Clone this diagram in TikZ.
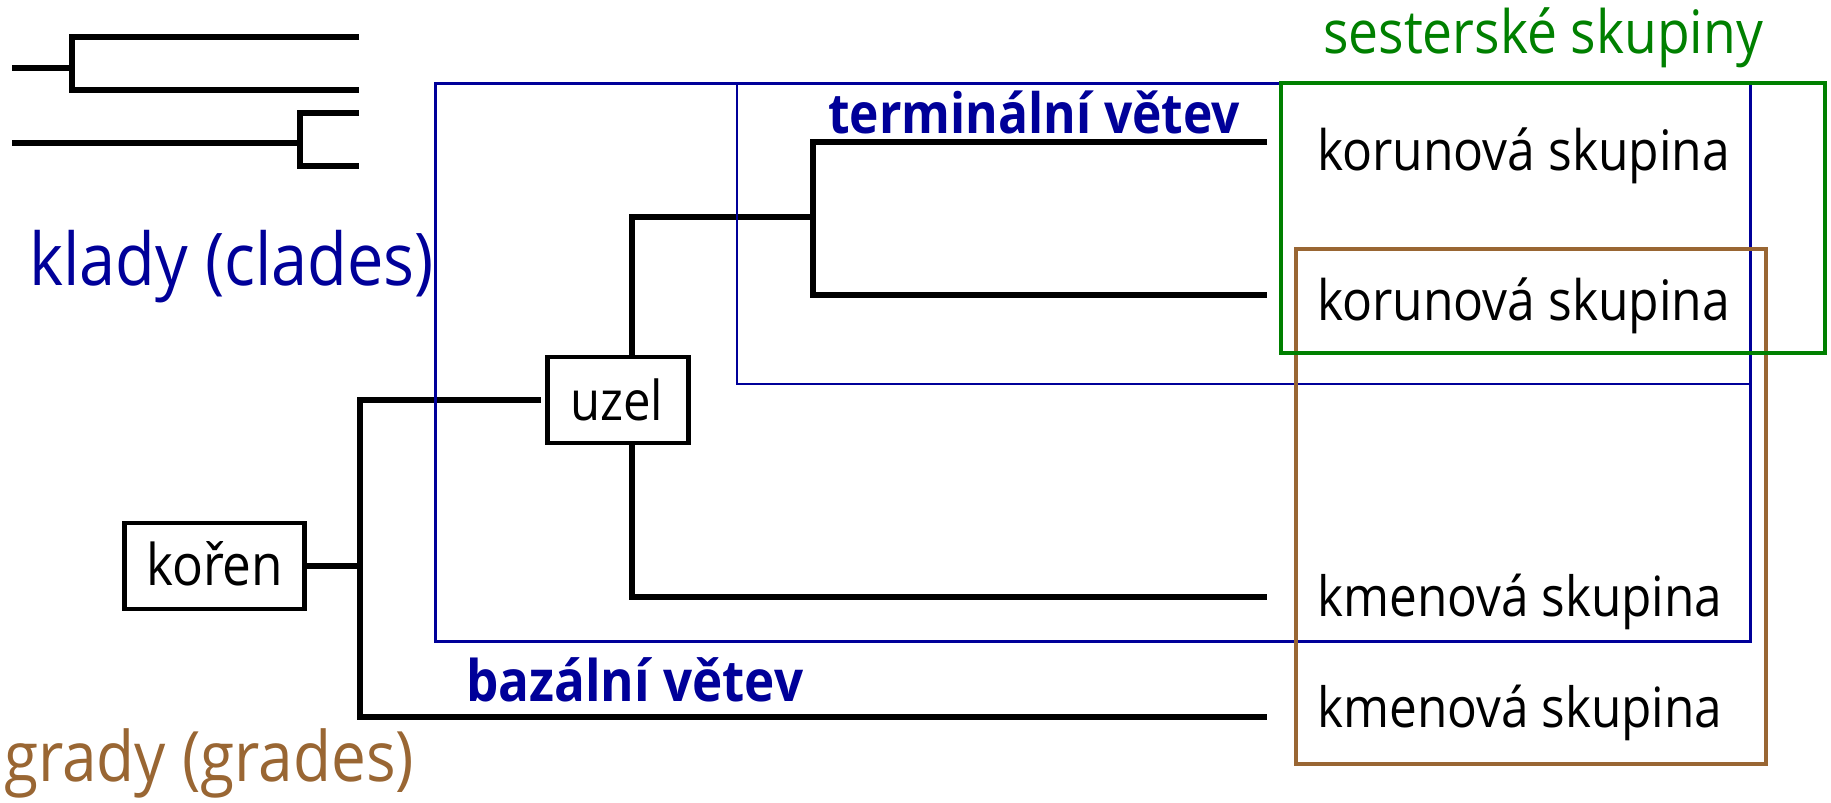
\documentclass[tikz,border=0pt]{standalone}
\usepackage{fontspec}
\setmainfont{Open Sans}
\usepackage{graphicx}
\definecolor{cladeblue}{RGB}{0,0,153}
\definecolor{sistergreen}{RGB}{0,128,0}
\definecolor{gradebrown}{RGB}{153,102,51}
\newcommand{\fitw}[2]{\scalebox{1}[1.12]{\resizebox{#1pt}{!}{\fontsize{40}{48}\selectfont #2}}}
\begin{document}
\begin{tikzpicture}[x=1pt,y=-1pt,
  branch/.style={line width=5.5pt, line join=miter},
  lbl/.style={inner sep=0pt, anchor=base west},
  boxnode/.style={draw, line width=4.5pt, inner sep=0pt, minimum height=86pt},
  blueframe/.style={draw=cladeblue, line width=3pt},
  blueinner/.style={draw=cladeblue, line width=2.5pt},
  greenframe/.style={draw=sistergreen, line width=4pt},
  brownframe/.style={draw=gradebrown, line width=3.5pt}]
\useasboundingbox (0,0) rectangle (1831,803);
% small example trees
\coordinate (a0) at (12,68);
\coordinate (a1) at (72,68);
\coordinate (a2) at (359,37);
\coordinate (a3) at (359,90);
\draw[branch] (a0) -- (a1) (a2) -| (a1) |- (a3);
\coordinate (b0) at (12,143);
\coordinate (b1) at (300,143);
\coordinate (b2) at (359,113);
\coordinate (b3) at (359,166);
\draw[branch] (b0) -- (b1) (b2) -| (b1) |- (b3);
% nodes
\node[boxnode, minimum width=180pt] (koren) at (214.5,566) {};
\node[boxnode, minimum width=141pt] (uzel) at (618,400) {};
\node[lbl] (korentxt) at (146,585) {\fitw{137}{kořen}};
\node[lbl] (uzeltxt) at (570,420) {\fitw{93}{uzel}};
% tree
\coordinate (rootv) at (360,566);
\coordinate (rtop) at (360,400);
\coordinate (rbot) at (360,717);
\coordinate (uzelin) at (541,400);
\coordinate (ux) at (632,400);
\coordinate (ctop) at (813,217);
\coordinate (t1) at (1267,142);
\coordinate (t2) at (1267,295);
\coordinate (s1) at (1267,597);
\coordinate (s2) at (1267,717);
\draw[branch] (koren.east) -- (rootv);
\draw[branch] (uzelin) -| (rbot) -- (s2);
\draw[branch] (uzel.north -| ux) |- (ctop);
\draw[branch] (t1) -| (ctop) |- (t2);
\draw[branch] (uzel.south -| ux) |- (s1);
% frames
\draw[blueframe] (435.5,83) rectangle (1750,641);
\draw[blueinner] (737,83) rectangle (1750,384);
\draw[brownframe] (1296,249) rectangle (1766,764);
\draw[greenframe] (1281,83) rectangle (1825,353);
% labels
\node[lbl, text=sistergreen] (sister) at (1323,53) {\fitw{440}{sesterské skupiny}};
\node[lbl, text=cladeblue] (term) at (828,133) {\fitw{412}{\bfseries terminální větev}};
\node[lbl, text=cladeblue] (baz) at (466,701) {\fitw{337}{\bfseries bazální větev}};
\node[lbl, text=cladeblue] (klady) at (29,285) {\fitw{405}{klady (clades)}};
\node[lbl, text=gradebrown] (grady) at (4,781) {\fitw{410}{grady (grades)}};
\node[lbl] (kor1) at (1317,170) {\fitw{413}{korunová skupina}};
\node[lbl] (kor2) at (1317,320) {\fitw{413}{korunová skupina}};
\node[lbl] (kme1) at (1317,616) {\fitw{405}{kmenová skupina}};
\node[lbl] (kme2) at (1317,727) {\fitw{405}{kmenová skupina}};
\end{tikzpicture}
\end{document}
